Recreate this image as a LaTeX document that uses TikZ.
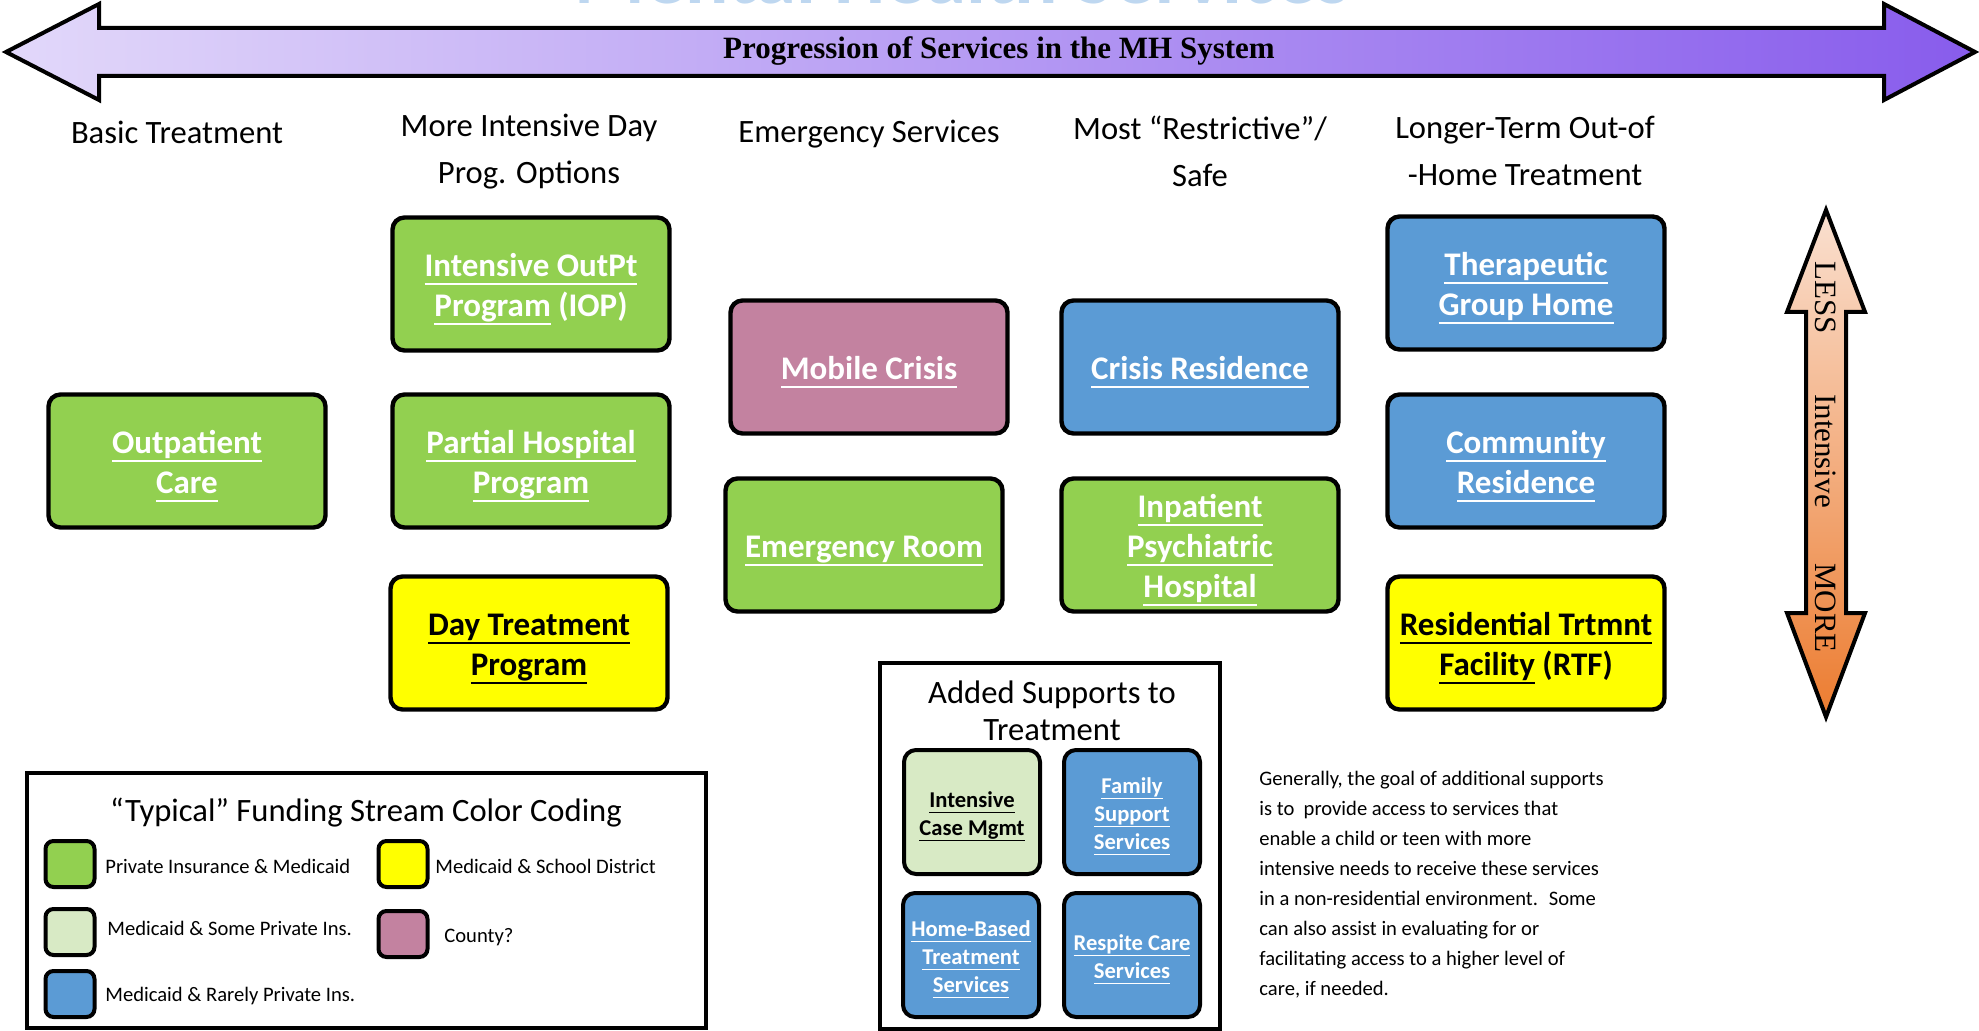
\documentclass[tikz,border=0pt]{standalone}
\usepackage{fontspec}
\setmainfont{Carlito}
\newfontfamily\serifbook{Liberation Serif}

% link-style underline at a fixed depth
\newsavebox\ulinebox
\newcommand\ulined[1]{\sbox\ulinebox{#1}\rlap{\rule[-0.26em]{\wd\ulinebox}{0.065em}}\usebox\ulinebox}
% extra room above the first line of a box label
\newcommand\svstrut{\rule{0pt}{17pt}}
\newcommand\spstrut{\rule{0pt}{12.5pt}}

\definecolor{svcgreen}{RGB}{146,208,80}
\definecolor{svcblue}{RGB}{91,155,213}
\definecolor{svcpink}{RGB}{195,130,160}
\definecolor{svcyellow}{RGB}{255,255,0}
\definecolor{svcpale}{RGB}{216,234,197}
\definecolor{lilac}{RGB}{226,216,250}
\definecolor{violet}{RGB}{136,92,236}
\definecolor{peach}{RGB}{250,224,208}
\definecolor{burnt}{RGB}{236,124,48}
\definecolor{titleblue}{RGB}{190,215,240}

\begin{document}
\begin{tikzpicture}[x=0.5pt,y=-0.5pt,
    svc/.style={draw=black, line width=2.2pt, rounded corners=6pt, minimum width=138.5pt,
      minimum height=66.5pt, inner sep=0pt, align=center, text=white,
      font=\fontsize{16.5}{20}\selectfont\bfseries},
    tier/.style={align=center, font=\fontsize{16.3}{23.5}\selectfont},
    support/.style={draw=black, line width=2pt, rounded corners=6pt, minimum width=68pt,
      minimum height=62pt, inner sep=0pt, align=center, text=white,
      font=\fontsize{11.3}{14}\selectfont\bfseries},
    swatch/.style={draw=black, line width=2pt, rounded corners=4pt, minimum width=24.5pt,
      minimum height=23pt, inner sep=0pt},
    fundlabel/.style={anchor=west, inner sep=0pt, font=\fontsize{10.3}{12}\selectfont},
    panel/.style={draw=black, line width=1.6pt},
    axislabel/.style={rotate=-90, font=\fontsize{15.5}{18}\selectfont\serifbook}]
\useasboundingbox (0,0) rectangle (1979,1031);
\clip (0,0) rectangle (1979,1031);

% heading, mostly cut off at the top edge
\node[anchor=base, text=titleblue, font=\fontsize{40.5}{48}\selectfont\bfseries] (title) at (962,4) {Mental Health Services};

% progression arrow
\draw[line width=2pt, left color=lilac, right color=violet]
  (6,52) -- (99,4) -- (99,28) -- (1884,28) -- (1884,4) -- (1975,52)
  -- (1884,100) -- (1884,76) -- (99,76) -- (99,100) -- cycle;
\node[font=\fontsize{15.5}{18}\selectfont\serifbook\bfseries] (progress) at (999,51) {Progression of Services in the MH System};

% column headings
\node[tier] (basic) at (177,132) {Basic Treatment};
\node[tier] (dayopts) at (529,152) {More Intensive Day\\Prog. Options};
\node[tier] (emergency) at (869,134) {Emergency Services};
\node[tier] (restrictive) at (1200,151) {Most “Restrictive”/\\Safe};
\node[tier] (longterm) at (1525,151) {Longer-Term Out-of\\-Home Treatment};

% services
\node[svc, fill=svcgreen] (outpt) at (187,461) {\svstrut\ulined{Outpatient}\\\ulined{Care}};
\node[svc, fill=svcgreen] (iop) at (531,284) {\svstrut\ulined{Intensive OutPt}\\\ulined{Program} (IOP)};
\node[svc, fill=svcgreen] (php) at (531,461) {\svstrut\ulined{Partial Hospital}\\\ulined{Program}};
\node[svc, fill=svcyellow, text=black] (daytx) at (529,643) {\svstrut\ulined{Day Treatment}\\\ulined{Program}};
\node[svc, fill=svcpink] (mobile) at (869,367) {\svstrut\ulined{Mobile Crisis}};
\node[svc, fill=svcgreen] (er) at (864,545) {\svstrut\ulined{Emergency Room}};
\node[svc, fill=svcblue] (crisisres) at (1200,367) {\svstrut\ulined{Crisis Residence}};
\node[svc, fill=svcgreen] (inpt) at (1200,545) {\svstrut\ulined{Inpatient}\\\ulined{Psychiatric}\\\ulined{Hospital}};
\node[svc, fill=svcblue] (tgh) at (1526,283) {\svstrut\ulined{Therapeutic}\\\ulined{Group Home}};
\node[svc, fill=svcblue] (commres) at (1526,461) {\svstrut\ulined{Community}\\\ulined{Residence}};
\node[svc, fill=svcyellow, text=black] (rtf) at (1526,643) {\svstrut\ulined{Residential Trtmnt}\\\ulined{Facility} (RTF)};

% intensity arrow
\draw[line width=2pt, top color=peach, bottom color=burnt]
  (1826,210) -- (1865,312) -- (1846,312) -- (1846,613) -- (1865,613) -- (1826,717)
  -- (1787,613) -- (1806,613) -- (1806,312) -- (1787,312) -- cycle;
\node[axislabel] (less) at (1826,298) {LESS};
\node[axislabel] (intensive) at (1826,451) {Intensive};
\node[axislabel] (more) at (1826,608) {MORE};

% funding legend
\draw[panel] (27,773) rectangle (706,1028);
\node[font=\fontsize{16.3}{20}\selectfont] (legendtitle) at (366,813) {“Typical” Funding Stream Color Coding};
\node[swatch, fill=svcgreen] (swgreen) at (70,864) {};
\node[swatch, fill=svcpale] (swpale) at (70,932) {};
\node[swatch, fill=svcblue] (swblue) at (70,994) {};
\node[swatch, fill=svcyellow] (swyellow) at (403,864) {};
\node[swatch, fill=svcpink] (swpink) at (403,934) {};
\node[fundlabel] (lbgreen) at (105,866) {Private Insurance \& Medicaid};
\node[fundlabel] (lbpale) at (107,928) {Medicaid \& Some Private Ins.};
\node[fundlabel] (lbblue) at (105,996) {Medicaid \& Rarely Private Ins.};
\node[fundlabel] (lbyellow) at (435,866) {Medicaid \& School District};
\node[fundlabel] (lbpink) at (444,937) {County?};

% added supports
\draw[panel] (880,663) rectangle (1220,1029);
\node[align=center, font=\fontsize{16.3}{18.5}\selectfont] (supporttitle) at (1052,711) {Added Supports to\\Treatment};
\node[support, fill=svcpale, text=black] (icm) at (972,812) {\spstrut\ulined{Intensive}\\\ulined{Case Mgmt}};
\node[support, fill=svcblue] (family) at (1132,812) {\spstrut\ulined{Family}\\\ulined{Support}\\\ulined{Services}};
\node[support, fill=svcblue] (homebased) at (971,955) {\spstrut\ulined{Home-Based}\\\ulined{Treatment}\\\ulined{Services}};
\node[support, fill=svcblue] (respite) at (1132,955) {\spstrut\ulined{Respite Care}\\\ulined{Services}};

\node[anchor=north west, inner sep=0pt, align=left, font=\fontsize{10.3}{15}\selectfont] (note) at (1259,771)
  {Generally, the goal of additional supports\\
   is to~ provide access to services that\\
   enable a child or teen with more\\
   intensive needs to receive these services\\
   in a non-residential environment.~ Some\\
   can also assist in evaluating for or\\
   facilitating access to a higher level of\\
   care, if needed.};
\end{tikzpicture}
\end{document}
